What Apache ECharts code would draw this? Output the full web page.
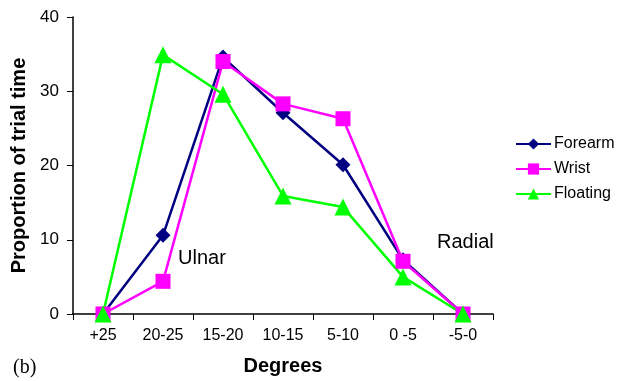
<!DOCTYPE html>
<html><head><meta charset="utf-8">
<script src="https://cdn.jsdelivr.net/npm/echarts@6/dist/echarts.min.js"></script>
<style>html,body{margin:0;padding:0;background:#fff}#c{width:619px;height:381px}</style>
</head><body><div id="c"></div>
<script>
const categories = ['+25','20-25','15-20','10-15','5-10','0 -5','-5-0'];
const forearm = [0, 10.6, 34.6, 27.1, 20.1, 7.3, 0];
const wrist = [0, 4.4, 34.0, 28.3, 26.3, 7.1, 0];
const floating = [0, 34.9, 29.6, 15.9, 14.4, 5.0, 0];
const yTicks = [0, 10, 20, 30, 40];

const chart = echarts.init(document.getElementById('c'));
const font = '"Liberation Sans", Arial, sans-serif';
function ser(name, data, color, symbol, size) {
  return {name, type:'line', data, symbol, symbolSize:size, showSymbol:true,
    lineStyle:{color, width:2.5}, itemStyle:{color}, z: 3, animation:false};
}
chart.setOption({
  animation:false,
  grid:{left:73, top:17, width:420, height:299},
  legend:{orient:'vertical', left:510, top:131, itemWidth:35, itemHeight:14, itemGap:9,
    textStyle:{fontFamily:font, fontSize:16, color:'#000', padding:[0,0,0,-2]},
    data:['Forearm','Wrist','Floating']},
  xAxis:{type:'category', data:categories, boundaryGap:true,
    axisLine:{lineStyle:{color:'#000', width:1.5}},
    axisTick:{show:true, alignWithLabel:false, length:6, lineStyle:{color:'#000'}},
    axisLabel:{fontFamily:font, fontSize:16, color:'#000', margin:14},
    name:'Degrees', nameLocation:'middle', nameGap:42,
    nameTextStyle:{fontFamily:font, fontSize:20, fontWeight:'bold', color:'#000'}},
  yAxis:{type:'value', min:yTicks[0], max:yTicks[yTicks.length-1], interval:10,
    splitLine:{show:false},
    axisLine:{show:true, lineStyle:{color:'#000', width:1.5}},
    axisTick:{show:true, length:6, lineStyle:{color:'#000'}},
    axisLabel:{fontFamily:font, fontSize:17, color:'#000', margin:14},
    name:'Proportion of trial time', nameLocation:'middle', nameGap:36,
    nameTextStyle:{fontFamily:font, fontSize:20, fontWeight:'bold', color:'#000'}},
  graphic:[
    {type:'text', x:178, y:258, style:{text:'Ulnar', font:'20px '+font, fill:'#000', verticalAlign:'middle'}},
    {type:'text', x:437, y:242, style:{text:'Radial', font:'20px '+font, fill:'#000', verticalAlign:'middle'}},
    {type:'text', x:13, y:368, style:{text:'(b)', font:'20px "Liberation Serif", "Times New Roman", serif', fill:'#000', verticalAlign:'middle'}}
  ],
  series:[
    ser('Forearm', forearm, '#000080', 'diamond', 15),
    ser('Wrist', wrist, '#ff00ff', 'rect', 15),
    ser('Floating', floating, '#00ff00', 'triangle', 17)
  ]
});
</script></body></html>
